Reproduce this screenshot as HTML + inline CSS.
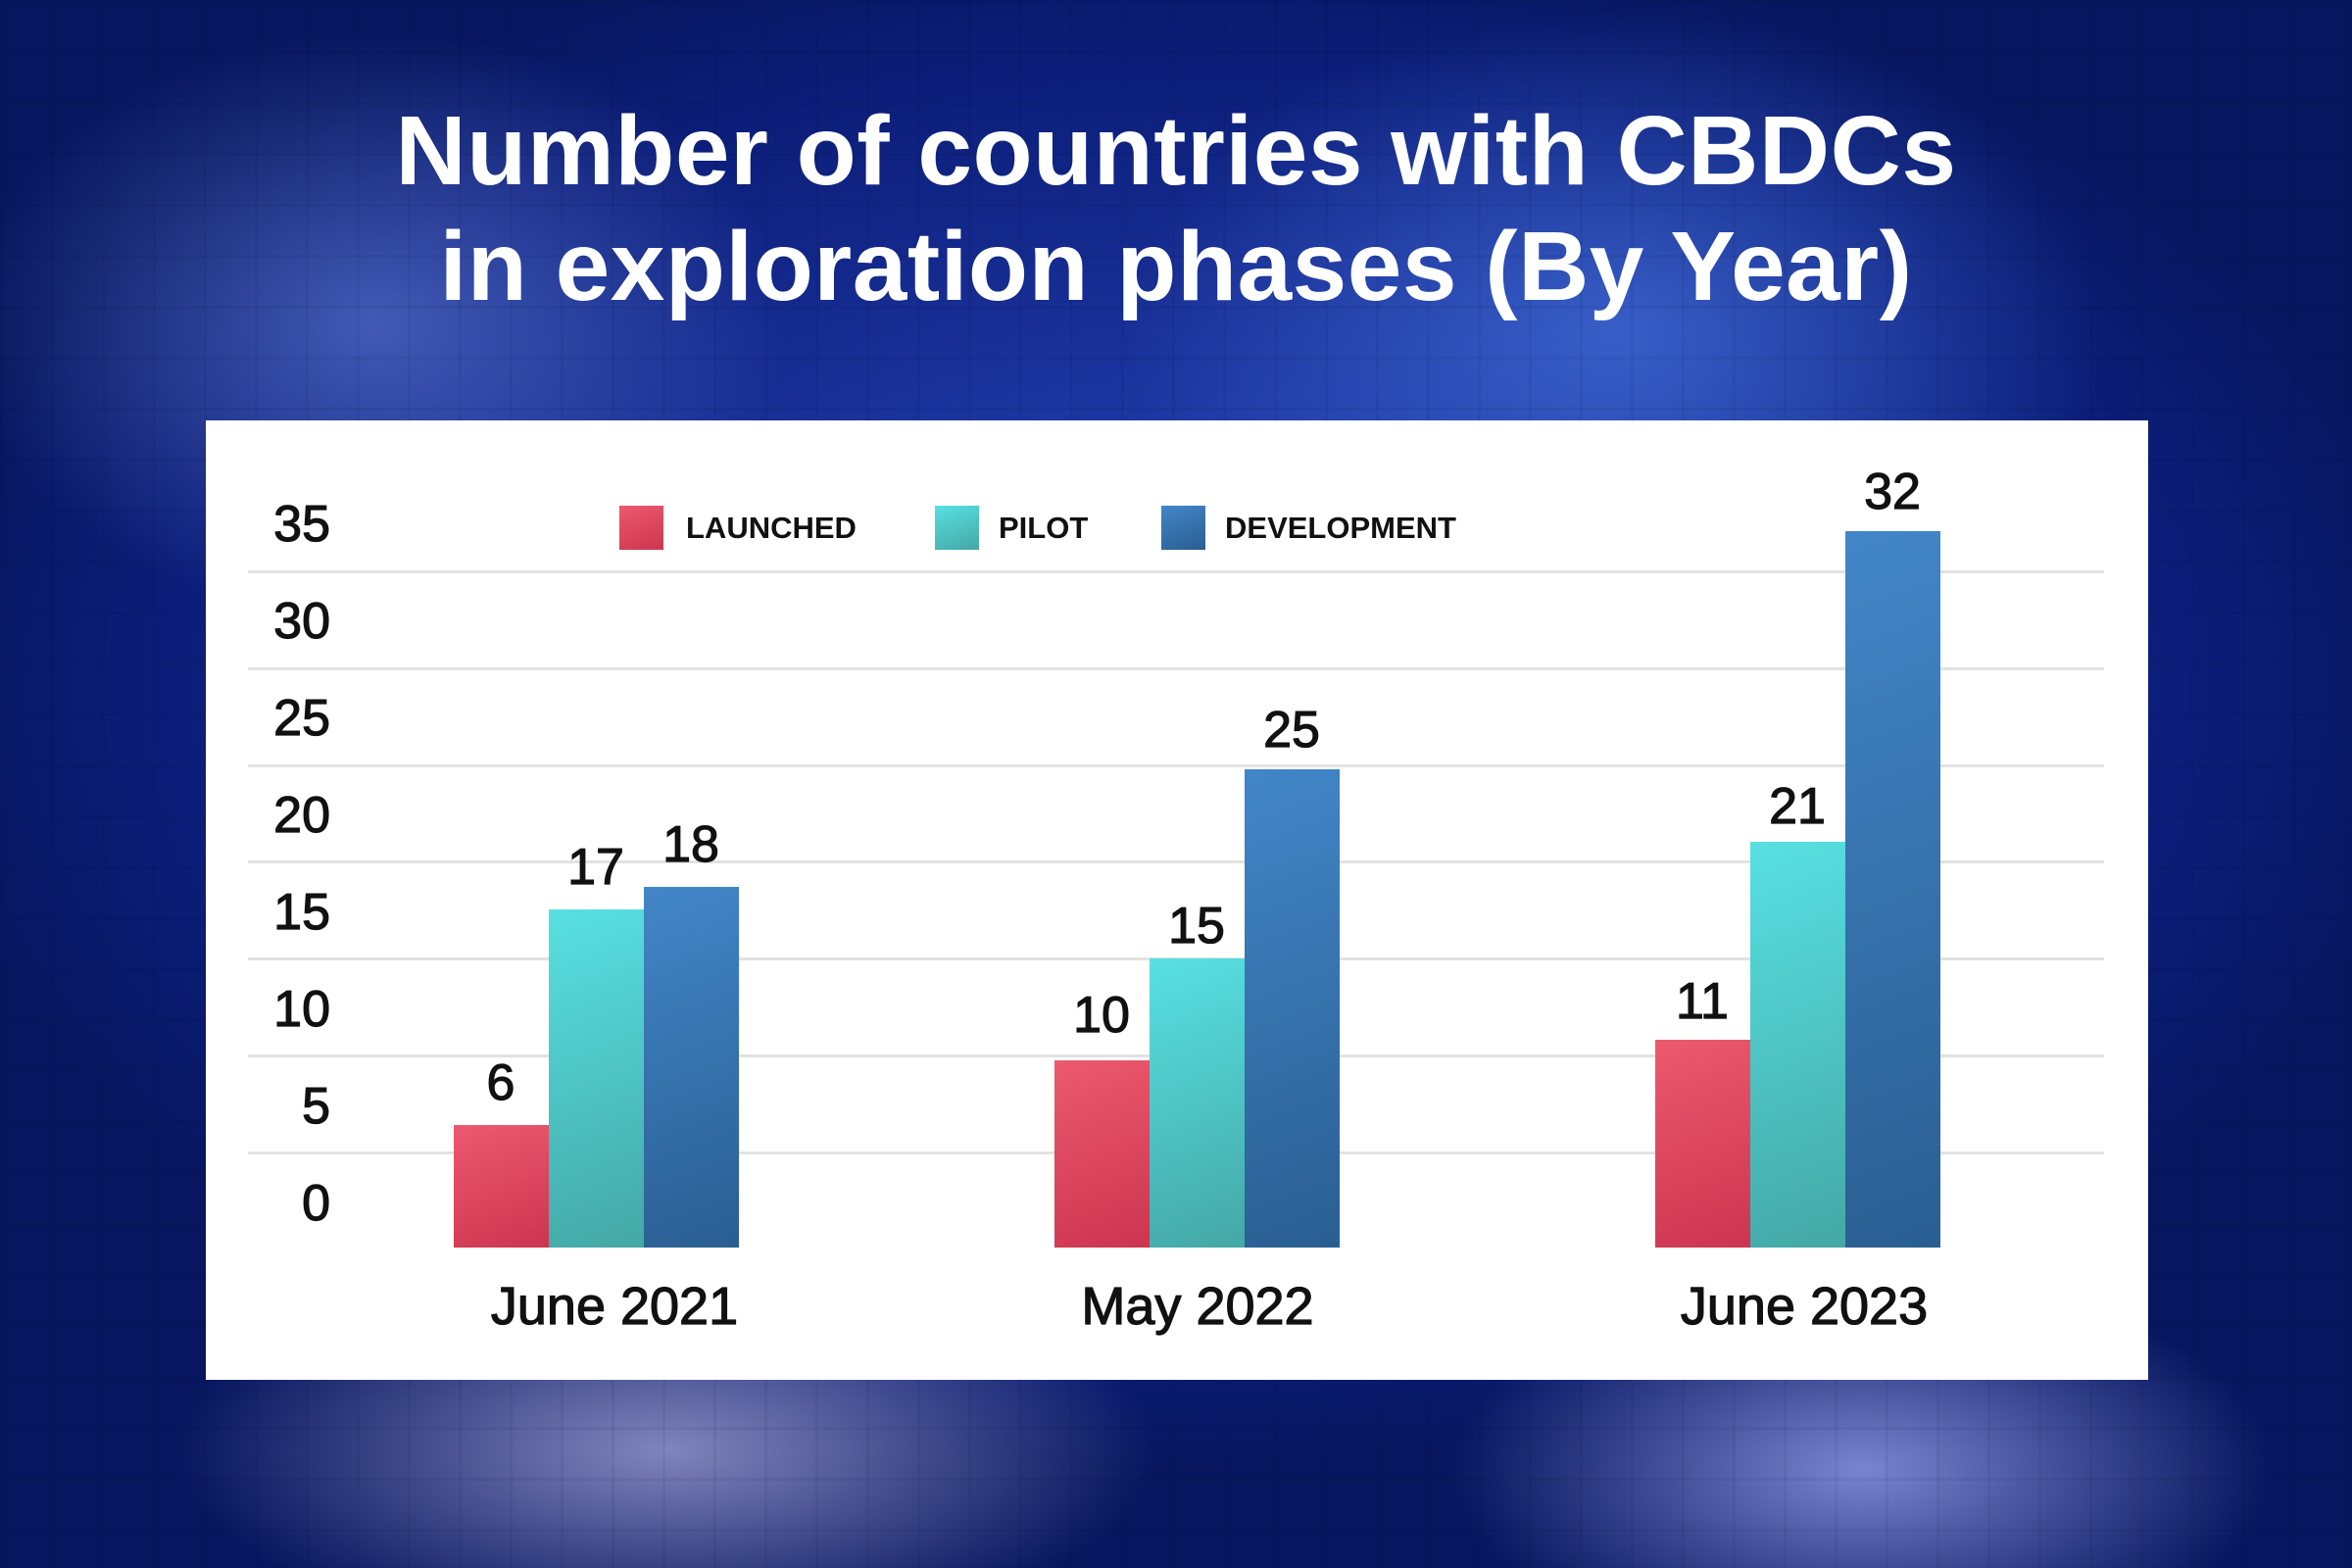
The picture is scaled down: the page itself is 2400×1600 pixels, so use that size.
<!DOCTYPE html>
<html><head><meta charset="utf-8"><style>
html,body{margin:0;padding:0}
body{width:2400px;height:1600px;position:relative;overflow:hidden;font-family:"Liberation Sans",sans-serif;
background:
radial-gradient(ellipse 420px 300px at 380px 330px,rgba(110,140,230,.55),rgba(0,0,0,0)),
radial-gradient(ellipse 500px 330px at 1650px 340px,rgba(80,130,240,.6),rgba(0,0,0,0)),
radial-gradient(ellipse 500px 200px at 680px 1480px,rgba(170,170,220,.75),rgba(0,0,0,0)),
radial-gradient(ellipse 420px 200px at 1900px 1500px,rgba(150,160,235,.8),rgba(0,0,0,0)),
radial-gradient(ellipse 1300px 800px at 1200px 700px,#2a48c0,#0b1d78 80%,#07165e);}
.grid{position:absolute;inset:0;background-image:linear-gradient(rgba(0,0,30,.06) 3px,transparent 3px),linear-gradient(90deg,rgba(0,0,30,.06) 3px,transparent 3px);background-size:52px 52px}
.title{position:absolute;left:0;width:2400px;top:95px;text-align:center;color:#fff;font-weight:bold;font-size:100px;line-height:118px;letter-spacing:0.5px}
.panel{position:absolute;left:210px;top:429px;width:1982px;height:979px;background:#fff}
.gl{position:absolute;left:253px;width:1894px;height:3px;background:#e2e2e2}
.yl,.v,.xl{-webkit-text-stroke:1.2px #111}
.yl{position:absolute;left:240px;width:97px;text-align:right;font-size:52px;color:#111;line-height:60px}
.bar{position:absolute;width:97px;bottom:327px}
.r{background:linear-gradient(160deg,#ec5a6e,#cc3550)}
.t{background:linear-gradient(160deg,#58e0e2,#44a8a6)}
.b{background:linear-gradient(160deg,#4286c8,#2a5e92)}
.v{position:absolute;width:140px;text-align:center;font-size:52px;color:#111;line-height:60px}
.xl{position:absolute;width:400px;text-align:center;font-size:54px;color:#111;top:1302px;line-height:62px}
.lg{position:absolute;top:516px;width:45px;height:45px}
.lt{position:absolute;top:520px;font-size:31px;font-weight:bold;color:#111;line-height:38px}
</style></head><body>
<div class="grid"></div>
<div class="title">Number of countries with CBDCs<br>in exploration phases (By Year)</div>
<div class="panel"></div>
<div class="gl" style="top:582px"></div>
<div class="gl" style="top:681px"></div>
<div class="gl" style="top:780px"></div>
<div class="gl" style="top:878px"></div>
<div class="gl" style="top:977px"></div>
<div class="gl" style="top:1076px"></div>
<div class="gl" style="top:1175px"></div>
<div class="yl" style="top:505px">35</div>
<div class="yl" style="top:604px">30</div>
<div class="yl" style="top:703px">25</div>
<div class="yl" style="top:802px">20</div>
<div class="yl" style="top:901px">15</div>
<div class="yl" style="top:1000px">10</div>
<div class="yl" style="top:1099px">5</div>
<div class="yl" style="top:1198px">0</div>
<div class="lg r" style="left:632px"></div><div class="lt" style="left:700px">LAUNCHED</div>
<div class="lg t" style="left:954px"></div><div class="lt" style="left:1019px">PILOT</div>
<div class="lg b" style="left:1185px"></div><div class="lt" style="left:1250px">DEVELOPMENT</div>

<div class="bar r" style="left:463px;top:1148px"></div>
<div class="bar t" style="left:560px;top:928px"></div>
<div class="bar b" style="left:657px;top:905px"></div>
<div class="bar r" style="left:1076px;top:1082px"></div>
<div class="bar t" style="left:1173px;top:978px"></div>
<div class="bar b" style="left:1270px;top:785px"></div>
<div class="bar r" style="left:1689px;top:1061px"></div>
<div class="bar t" style="left:1786px;top:859px"></div>
<div class="bar b" style="left:1883px;top:542px"></div>

<div class="v" style="left:441px;top:1075px">6</div>
<div class="v" style="left:538px;top:855px">17</div>
<div class="v" style="left:635px;top:832px">18</div>
<div class="v" style="left:1054px;top:1006px">10</div>
<div class="v" style="left:1151px;top:915px">15</div>
<div class="v" style="left:1248px;top:715px">25</div>
<div class="v" style="left:1667px;top:992px">11</div>
<div class="v" style="left:1764px;top:793px">21</div>
<div class="v" style="left:1861px;top:472px">32</div>

<div class="xl" style="left:427px">June 2021</div>
<div class="xl" style="left:1022px">May 2022</div>
<div class="xl" style="left:1641px">June 2023</div>
</body></html>
